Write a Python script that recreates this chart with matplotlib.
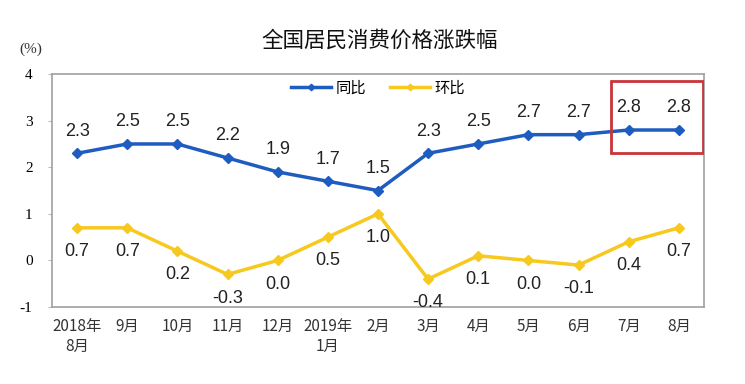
import matplotlib
matplotlib.use("Agg")
import matplotlib.pyplot as plt
from matplotlib.patches import Rectangle

plt.rcParams['font.family'] = ['Liberation Serif', 'Noto Sans CJK SC', 'DejaVu Sans']

months = ["2018年\n8月", "9月", "10月", "11月", "12月", "2019年\n1月", "2月",
          "3月", "4月", "5月", "6月", "7月", "8月"]
yoy = [2.3, 2.5, 2.5, 2.2, 1.9, 1.7, 1.5, 2.3, 2.5, 2.7, 2.7, 2.8, 2.8]
mom = [0.7, 0.7, 0.2, -0.3, 0.0, 0.5, 1.0, -0.4, 0.1, 0.0, -0.1, 0.4, 0.7]
yticks = [-1, 0, 1, 2, 3, 4]

blue = "#1f5cbf"
yellow = "#f7c81e"

fig = plt.figure(figsize=(7.45, 3.84), dpi=100)
ax = fig.add_axes([0.0698, 0.2005, 0.875, 0.6065])
x = list(range(len(months)))

ax.plot(x, yoy, color=blue, lw=2.5, marker='D', ms=5.5, label='同比')
ax.plot(x, mom, color=yellow, lw=2.5, marker='D', ms=5.5, label='环比')

lab_font = ['Liberation Sans', 'DejaVu Sans']
for xi, v in zip(x, yoy):
    ax.annotate(f"{v:.1f}", (xi, v), xytext=(0, 16), textcoords='offset points',
                ha='center', va='center', fontsize=13, family=lab_font, color='#222222')
for xi, v in zip(x, mom):
    ax.annotate(f"{v:.1f}", (xi, v), xytext=(0, -17), textcoords='offset points',
                ha='center', va='center', fontsize=13, family=lab_font, color='#222222')

ax.set_xlim(-0.5, 12.5)
ax.set_ylim(-1, 4)
ax.set_yticks(yticks)
ax.set_yticklabels([str(t) for t in yticks], fontsize=11)
ax.set_xticks(x)
ax.set_xticklabels(months, fontsize=11, family=['Noto Sans CJK SC'], color='#333333')
ax.tick_params(axis='x', length=0, pad=8)
ax.tick_params(axis='y', length=3, color='#bbbbbb', pad=11)
for s in ax.spines.values():
    s.set_color('#a0a0a0')
    s.set_linewidth(1.2)

rect = Rectangle((10.65, 2.3), 1.83, 1.55, fill=False, edgecolor='#c8363a', lw=2, zorder=5)
ax.add_patch(rect)

leg = ax.legend(loc='upper center', bbox_to_anchor=(0.5, 1.035), ncol=2, frameon=False,
                prop={'family': ['Noto Sans CJK SC'], 'size': 11}, handlelength=2.6,
                columnspacing=1.6, handletextpad=0.3, markerscale=0.6)

fig.text(0.51, 0.893, "全国居民消费价格涨跌幅", ha='center', va='center', fontsize=15.5,
         family=['Noto Sans CJK SC'], color='#111111')
fig.text(0.042, 0.872, "(%)", ha='center', va='center', fontsize=11, color='#333333')

fig.savefig("out.png", dpi=100)
